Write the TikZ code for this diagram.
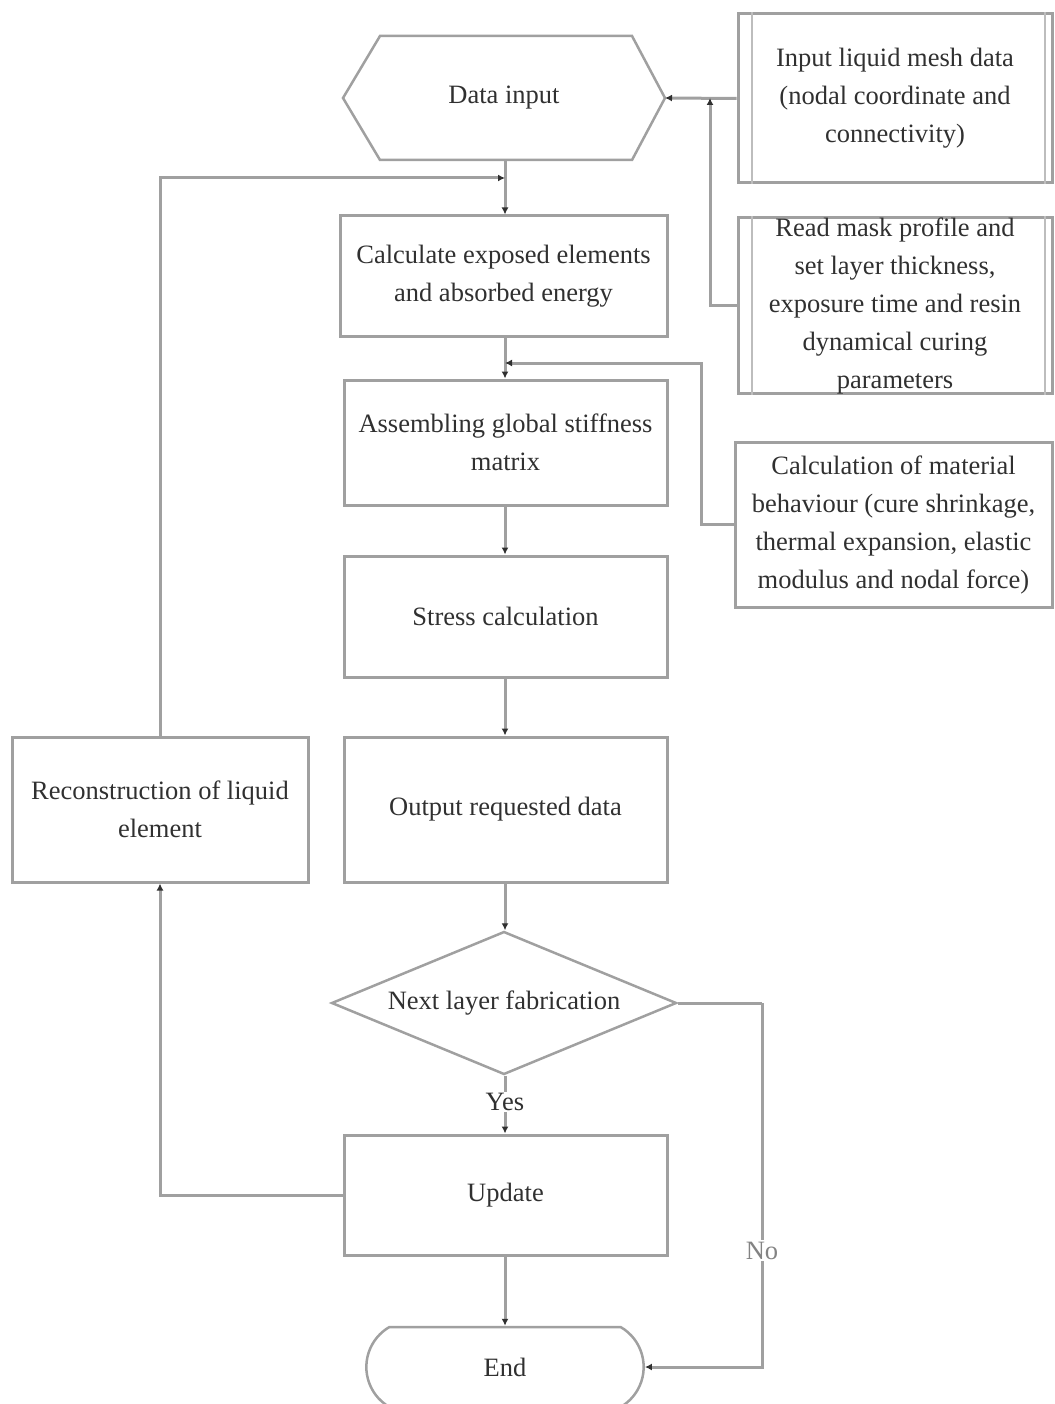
\documentclass[tikz,border=0pt]{standalone}
\usepackage{fontspec}
\setmainfont{Liberation Serif}
\usetikzlibrary{shapes.geometric,shapes.misc,arrows.meta,calc}
\definecolor{edge}{HTML}{A0A0A0}
\definecolor{ink}{HTML}{303030}
\begin{document}
\begin{tikzpicture}[x=1pt,y=-1pt,
  every node/.style={font=\fontsize{26.5}{38}\selectfont, text=ink},
  stepbox/.style={draw=edge, line width=3pt, rectangle, align=center, inner sep=0pt},
  flow/.style={draw=edge, line width=3pt, -{Latex[length=7pt,width=7pt,color=ink]}},
  link/.style={draw=edge, line width=3pt},
  inner/.style={draw=edge!70, line width=2pt},
]
\useasboundingbox (0,0) rectangle (1054,1404);

% start: data input (hexagon)
\draw[edge, line width=2.5pt] (343,98) -- (380,36) -- (632,36) -- (665,98)
  -- (632,160) -- (380,160) -- cycle;
\node[align=center] (data) at (504,98) {Data input};
\coordinate (dataR) at (665,98);
\coordinate (dataB) at (505,160);

% side inputs
\node[stepbox, minimum width=314pt, minimum height=169pt] (mesh) at (895,98.5)
  {Input liquid mesh data\\(nodal coordinate and\\connectivity)};
\node[stepbox, minimum width=314pt, minimum height=175pt] (mask) at (895,305.5)
  {Read mask profile and\\set layer thickness,\\exposure time and resin\\dynamical curing\\parameters};
\foreach \b in {mesh,mask}{
  \draw[inner] ($(\b.north west)+(15,0)$) -- ($(\b.south west)+(15,0)$);
  \draw[inner] ($(\b.north east)+(-9,0)$) -- ($(\b.south east)+(-9,0)$);
}
\node[stepbox, minimum width=317pt, minimum height=165pt] (mat) at (893.5,524.5)
  {Calculation of material\\behaviour (cure shrinkage,\\thermal expansion, elastic\\modulus and nodal force)};

% main column
\node[stepbox, minimum width=327pt, minimum height=120pt] (calc) at (503.5,276)
  {Calculate exposed elements\\and absorbed energy};
\node[stepbox, minimum width=323pt, minimum height=125pt] (asm) at (505.5,442.5)
  {Assembling global stiffness\\matrix};
\node[stepbox, minimum width=323pt, minimum height=121pt] (stress) at (505.5,616.5)
  {Stress calculation};
\node[stepbox, minimum width=323pt, minimum height=145pt] (out) at (505.5,809.5)
  {Output requested data};
\node[draw=edge, line width=2.5pt, diamond, aspect=2.4, inner sep=0pt,
  minimum width=345pt, minimum height=143pt] (next) at (504,1003)
  {Next layer fabrication};
\node[stepbox, minimum width=323pt, minimum height=120pt] (upd) at (505.5,1195)
  {Update};
\node[draw=edge, line width=2.5pt, rounded rectangle, rounded rectangle arc length=120,
  minimum width=284pt, minimum height=80pt] (end) at (505,1367) {End};

% loop back
\node[stepbox, minimum width=296pt, minimum height=145pt] (recon) at (160,809.5)
  {Reconstruction of liquid\\element};

% junctions
\coordinate (j1) at (710,98);
\coordinate (j2) at (505,178);
\coordinate (j3) at (505,363);
\coordinate (nx) at (762,1003);

% connectors
\draw[flow] (mesh.west) -- (dataR);
\draw[flow] (mask.west) -| (j1);
\draw[flow] (dataB) -- (dataB |- calc.north);
\draw[flow] (recon.north) |- (j2);
\draw[flow] (calc.south -| j3) -- (asm.north -| j3);
\draw[flow] (mat.west) -- ++(-32,0) |- (j3);
\draw[flow] (asm.south -| j3) -- (stress.north -| j3);
\draw[flow] (stress.south -| j3) -- (out.north -| j3);
\draw[flow] (out.south -| j3) -- (next.north -| j3);
\draw[flow] (next.south -| j3) -- node[fill=white, inner sep=1pt, pos=0.45] {Yes} (upd.north -| j3);
\draw[flow] (upd.south -| j3) -- (end.north -| j3);
\draw[flow] (upd.west) -| (recon.south);
\draw[link] (next.east) -- (nx);
\draw[flow] (nx) |- node[pos=0.34, fill=white, text=ink!60, inner sep=2pt] {No} (end.east);
\end{tikzpicture}
\end{document}
